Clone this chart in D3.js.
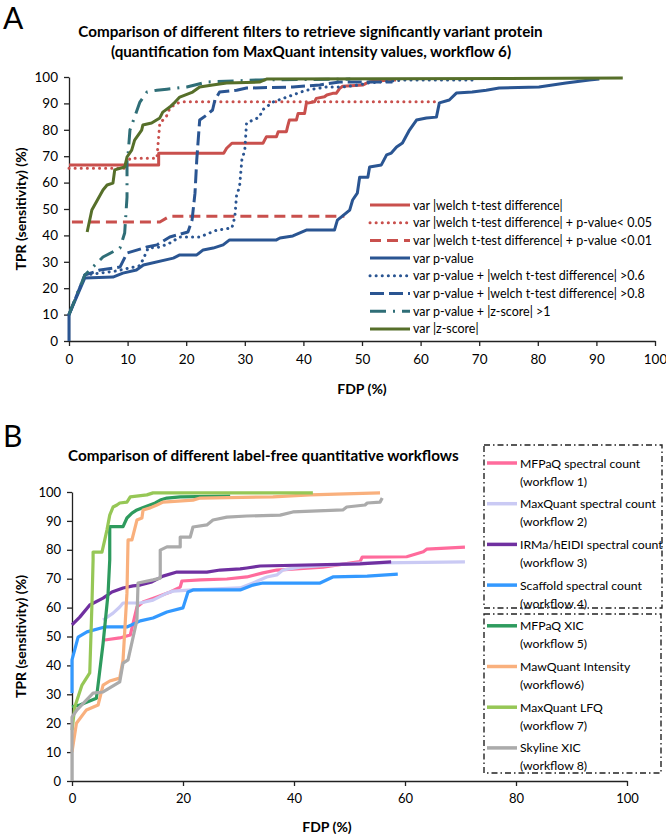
<!DOCTYPE html>
<html><head><meta charset="utf-8">
<script src="https://cdn.jsdelivr.net/npm/d3@7"></script>
<style>
body{margin:0;background:#fff}
svg{display:block}
text{font-family:Lato,"Open Sans",sans-serif;fill:#000}
</style></head>
<body><svg id="c" width="666" height="834"></svg>
<script>
// ---------------- DATA: panel A ----------------
const titleA = ["Comparison of different filters to retrieve significantly variant protein",
                "(quantification fom MaxQuant intensity values, workflow 6)"];
const xTicksA = [0,10,20,30,40,50,60,70,80,90,100];
const yTicksA = [0,10,20,30,40,50,60,70,80,90,100];
const namesA = ["var |welch t-test difference|",
  "var |welch t-test difference| + p-value< 0.05",
  "var |welch t-test difference| + p-value <0.01",
  "var p-value",
  "var p-value + |welch t-test difference| >0.6",
  "var p-value + |welch t-test difference| >0.8",
  "var p-value + |z-score| >1",
  "var |z-score|"];
const aWelch = [[0,66.7],[15.3,66.7],[15.3,71.1],[26.4,71.1],[26.9,73],[27.8,74.9],[33.1,74.9],[33.7,77.4],[35.4,77.4],[35.7,79.3],[37.1,79.3],[37.3,81.2],[37.6,83.7],[38.8,83.7],[39.1,86.2],[40.2,86.2],[40.5,90],[41.9,90.6],[42.2,91.9],[43.6,92.5],[44,93.2],[45,93.8],[45.6,93.8],[46.2,95.7],[46.7,96.5],[50.2,97],[50.7,97.6],[51.3,98.2],[54.7,98.9],[55.8,98.9]];
const aWelchP05 = [[0,65.4],[9.8,65.4],[10.4,69.2],[15,69.2],[15.5,82.5],[16.6,85],[17.2,88.1],[18.3,90],[19.5,90.6],[62.9,90.6]];
const aWelchP01 = [[0.5,45.1],[15.5,45.1],[17.2,47.3],[47,47.3]];
const aPval = [[0,0],[0,10],[2.7,23.9],[7.5,24.2],[9.2,25.7],[11.5,26.9],[12.7,28.8],[17.8,31.4],[18.9,32.6],[21.8,32.6],[22.9,34.5],[24.6,35.2],[26.3,36.4],[27.4,38.3],[35.4,38.3],[36,39],[38.2,39.8],[40.5,42],[45.3,42],[45.8,45.8],[47.9,49.6],[48.4,53.4],[49.2,56],[49.6,62],[51,62],[51.3,65.9],[53.3,66.7],[54.2,70.5],[55,71.2],[55.9,73.5],[56.9,75],[58.1,79.9],[59.3,83.7],[61,84.5],[62.7,84.8],[63.2,90.2],[64.9,91.3],[66.1,93.9],[68.8,94.3],[71.2,95],[73.4,95.8],[80.2,96.2],[84.8,97.7],[88.8,98.9],[90.5,99.2]];
const aPvalW06 = [[0,10],[2.7,25],[8,26.5],[12,28.5],[12.6,30.7],[13.5,35.2],[15.5,35.6],[17.2,37.1],[18.9,39.4],[22.3,39.4],[25.2,42],[27.8,42.8],[28.3,47],[28.6,55.3],[29.1,58.3],[29.5,68.6],[30,72.3],[30.3,82.6],[32.5,84.8],[33,87.5],[34.8,90.5],[38.2,93.2],[40.5,95],[43.9,96.2],[46.7,96.2],[49.6,97],[50.8,97.7],[57.6,98.9],[68.8,98.9]];
const aPvalW08 = [[0,10],[2.7,25],[5.3,26.9],[8.7,28],[9.9,33.3],[13.3,35.6],[15,36.4],[17.2,39.4],[20.3,41.3],[21,45.8],[21.5,56],[21.8,68.6],[22.3,83.7],[23.5,85.6],[24.5,87.5],[24.9,91.3],[25.7,94.3],[28.6,95],[30.3,95.8],[38.2,96.2],[42.8,97],[46.2,98.1],[55.2,98.1]];
const aPvalZ1 = [[0,10],[2.7,25],[5.8,31.8],[8.7,35.2],[9.5,40.9],[9.9,54.5],[9.9,68.6],[10.1,71.2],[10.4,79.9],[12.1,90.5],[13.3,94.3],[15,95],[16.7,95.4],[20.1,96.2],[23.5,98.1],[32.5,98.9],[48,99.2]];
const aZscore = [[3.1,41.3],[3.9,49.6],[5.8,57.2],[6.5,59.1],[7.5,59.8],[7.8,64.8],[9.5,65.9],[9.9,69.7],[10.7,72.3],[11.2,76.1],[12.4,79.9],[12.6,81.8],[14.1,82.6],[15.5,84.5],[16,86.7],[17.2,88.6],[18.1,90.5],[18.9,92.4],[21.1,94.3],[22.3,96.2],[24.5,97],[26.9,97.7],[32.5,98.1],[33.7,99.2],[94.5,99.6]];
const seriesA = [aWelch,aWelchP05,aWelchP01,aPval,aPvalW06,aPvalW08,aPvalZ1,aZscore];

// ---------------- DATA: panel B ----------------
const titleB = "Comparison of different label-free quantitative workflows";
const xTicksB = [0,20,40,60,80,100];
const yTicksB = [0,10,20,30,40,50,60,70,80,90,100];
const namesB = [["MFPaQ spectral count","(workflow 1)"],["MaxQuant spectral count","(workflow 2)"],
  ["IRMa/hEIDI spectral count","(workflow 3)"],["Scaffold spectral count","(workflow 4)"],
  ["MFPaQ XIC","(workflow 5)"],["MawQuant Intensity","(workflow6)"],
  ["MaxQuant LFQ","(workflow 7)"],["Skyline XIC","(workflow 8)"]];
const bMFPaQsc = [[5.9,48.8],[8.6,49.5],[10.5,50.5],[11.7,60.2],[12.8,61.9],[15.3,63.7],[17.7,65.4],[19.5,67.1],[19.8,69.2],[23.1,69.6],[27.9,69.9],[31.5,70.6],[34.4,72],[36.9,73],[45.2,74],[51.9,75.9],[52.3,77.5],[60.3,77.6],[63.3,79.3],[63.9,80.2],[70.8,80.9]];
const bMaxQuantSc = [[5.6,55.7],[7.4,58.1],[8.6,60.2],[9.2,61.6],[12.3,61.6],[14.6,62.6],[17.1,65],[18.2,65.7],[21.8,66.1],[30.3,66.8],[32.6,68.5],[35.1,70.6],[36.9,71.3],[38,73],[41.1,74],[51.9,75.4],[70.8,75.8]];
const bIRMa = [[0,54],[1.4,56.7],[3.2,60.9],[5.6,63.3],[7.2,65.4],[9.2,66.8],[11,67.5],[12.3,67.8],[14.4,68.9],[16.4,70.9],[18.9,72.3],[24.3,72.3],[26.7,73],[30.3,73.4],[31.5,73.7],[33.9,74.4],[51.9,75.1],[57.5,75.8]];
const bScaffold = [[0,30.4],[0,41.9],[1.1,49.8],[2.7,51.6],[5.9,53.3],[9.9,53.3],[12.3,55.4],[14.6,56.4],[17.1,58.5],[20,59.9],[20.9,65.4],[21.8,66.1],[30.3,66.1],[32.6,67.8],[34.4,68.5],[44.7,68.5],[47,70.6],[53.2,70.9],[58.7,71.6]];
const bMFPaQxic = [[0,25.7],[1.4,26.3],[4.4,28.6],[5.6,47.6],[6.5,64.9],[6.8,76.5],[6.8,88],[9.2,88],[9.9,91],[10.8,92.7],[11.7,93.8],[12.6,94.5],[15,96.2],[15.9,97.2],[17.1,97.9],[19.5,98.3],[28.5,98.6]];
const bMawQuant = [[0,10],[0.8,20],[2.6,24.6],[4.7,26.3],[5.6,33.2],[6.8,34.6],[8.6,35.6],[9.2,41.9],[9.9,65],[10.1,83.4],[10.8,83.4],[11.7,90.3],[12.6,91],[12.8,93.8],[14.1,94.5],[15.3,95.5],[16.4,96.5],[21.8,97.2],[23.1,97.9],[36.2,98.3],[42.9,99],[55.5,99.7]];
const bLFQ = [[0,17.6],[0.5,25.6],[1.8,33.2],[3.2,37.4],[3.6,61.6],[3.8,76.5],[3.8,79.2],[5.4,79.2],[5.9,83.4],[6.3,86.9],[6.8,92],[7.4,94.8],[8.1,95.5],[8.6,96.2],[9.9,96.5],[10.5,98.3],[13.5,99],[14.6,99.7],[43.4,99.7]];
const bSkyline = [[0,0],[0,22.1],[0.9,24.6],[3.8,30.4],[5.6,30.8],[8.6,34.3],[9.2,40.8],[10.1,41.9],[11.7,55.7],[11.9,68.5],[14.6,69.6],[15.9,70.2],[15.9,79.9],[17.1,81],[19.5,81],[19.5,84.4],[21.3,84.4],[21.8,87.9],[24.3,88.6],[25.4,90.3],[27.9,91.3],[31.5,91.7],[37.5,92],[39.8,93.1],[48.8,93.8],[49.5,94.8],[52.8,95.5],[53.2,96.2],[55.5,96.5],[55.9,97.9]];
const seriesB = [bMFPaQsc,bMaxQuantSc,bIRMa,bScaffold,bMFPaQxic,bMawQuant,bLFQ,bSkyline];

// ---------------- STYLES ----------------
const stylesA = [
  {c:"#C9504D", d:null},
  {c:"#C9504D", d:"0.1,6"},
  {c:"#C9504D", d:"11,6"},
  {c:"#2A5592", d:null},
  {c:"#2A5592", d:"0.1,6"},
  {c:"#2A5592", d:"14,5"},
  {c:"#2F6E77", d:"16,7,2,7"},
  {c:"#566F2A", d:null}];
const colorsB = ["#FF6B9C","#CACAF4","#7030A0","#3399FF","#2E9B5E","#F9B07D","#96C756","#ABABAB"];

const svg = d3.select("#c");
const font = 'Lato,"Open Sans",sans-serif';
function fit(sel, w){ const l = sel.node().getComputedTextLength(); const fs = parseFloat(sel.attr("font-size")); sel.attr("font-size", fs*w/l); return fs*w/l; }
const isDot = s => s.d && s.d.startsWith("0.1");

// ================= PANEL A =================
const xA = d3.scaleLinear().domain([0,100]).range([69,655]);
const yA = d3.scaleLinear().domain([0,100]).range([341,77]);

svg.append("text").attr("x",3).attr("y",29).attr("font-family","'Liberation Sans',Arial,sans-serif").attr("font-size",30).text("A");
const tA1 = svg.append("text").attr("x",310.5).attr("y",31).attr("text-anchor","middle").attr("dominant-baseline","central")
  .attr("font-weight","bold").attr("font-size",14).text(titleA[0]);
const fsT = fit(tA1,465);
svg.append("text").attr("x",311).attr("y",51).attr("text-anchor","middle").attr("dominant-baseline","central")
  .attr("font-weight","bold").attr("font-size",fsT).text(titleA[1]);

function axes(g, x, y, xt, yt, fs, padX){
  const gx = g.append("g").attr("transform",`translate(0,${y(0)})`)
    .call(d3.axisBottom(x).tickValues(xt).tickSize(5).tickSizeOuter(0).tickPadding(padX));
  const gy = g.append("g").attr("transform",`translate(${x(0)},0)`)
    .call(d3.axisLeft(y).tickValues(yt).tickSize(5).tickSizeOuter(0).tickPadding(6));
  [gx,gy].forEach(a=>{
    a.select(".domain").attr("stroke","#222").attr("stroke-width",1.3);
    a.selectAll(".tick line").attr("stroke","#222").attr("stroke-width",1.3);
    a.selectAll(".tick text").attr("font-family",font).attr("font-size",fs).attr("fill","#000");
  });
}
const gA = svg.append("g");
axes(gA, xA, yA, xTicksA, yTicksA, 13.5, 8);

svg.append("text").attr("transform",`translate(20,${(yA(0)+yA(100))/2}) rotate(-90)`).attr("text-anchor","middle")
  .attr("dominant-baseline","central").attr("font-weight","bold").attr("font-size",14).text("TPR (sensitivity) (%)");
svg.append("text").attr("x",362).attr("y",388).attr("text-anchor","middle").attr("dominant-baseline","central")
  .attr("font-weight","bold").attr("font-size",14).text("FDP (%)");

const lineA = d3.line().x(d=>xA(d[0])).y(d=>yA(d[1]));
seriesA.forEach((s,i)=>{
  gA.append("path").attr("d",lineA(s)).attr("fill","none").attr("stroke",stylesA[i].c)
    .attr("stroke-width",3).attr("stroke-dasharray",stylesA[i].d)
    .attr("stroke-linecap",isDot(stylesA[i])?"round":"butt")
    .attr("stroke-linejoin","round");
});
// legend A
const legA = svg.append("g");
namesA.forEach((n,i)=>{
  const yy = 205 + i*17.7;
  legA.append("line").attr("x1",370).attr("x2",410).attr("y1",yy).attr("y2",yy)
    .attr("stroke",stylesA[i].c).attr("stroke-width",3).attr("stroke-dasharray",stylesA[i].d)
    .attr("stroke-linecap",isDot(stylesA[i])?"round":"butt");
  legA.append("text").attr("class","la").attr("x",413).attr("y",yy).attr("dominant-baseline","central")
    .attr("font-size",13).text(n);
});
const ref = legA.selectAll("text.la").filter((d,i)=>i===4);
const fsLA = fit(ref,232);
legA.selectAll("text.la").attr("font-size",fsLA);

// ================= PANEL B =================
const xB = d3.scaleLinear().domain([0,100]).range([72,627]);
const yB = d3.scaleLinear().domain([0,100]).range([781,492]);

svg.append("text").attr("x",3).attr("y",447).attr("font-family","'Liberation Sans',Arial,sans-serif").attr("font-size",30).text("B");
const tB = svg.append("text").attr("x",68).attr("y",455).attr("dominant-baseline","central")
  .attr("font-weight","bold").attr("font-size",15).text(titleB);
fit(tB,391);

const gB = svg.append("g");
axes(gB, xB, yB, xTicksB, yTicksB, 13, 8);
svg.append("text").attr("transform",`translate(20,${(yB(0)+yB(100))/2}) rotate(-90)`).attr("text-anchor","middle")
  .attr("dominant-baseline","central").attr("font-weight","bold").attr("font-size",14).text("TPR (sensitivity) (%)");
svg.append("text").attr("x",327).attr("y",826).attr("text-anchor","middle").attr("dominant-baseline","central")
  .attr("font-weight","bold").attr("font-size",14).text("FDP (%)");

const lineB = d3.line().x(d=>xB(d[0])).y(d=>yB(d[1]));
seriesB.forEach((s,i)=>{
  gB.append("path").attr("d",lineB(s)).attr("fill","none").attr("stroke",colorsB[i])
    .attr("stroke-width",3.2).attr("stroke-linejoin","round");
});
// legend B
const legB = svg.append("g");
legB.append("rect").attr("x",484).attr("y",445).attr("width",178).attr("height",163)
  .attr("fill","none").attr("stroke","#222").attr("stroke-width",1.4).attr("stroke-dasharray","6,3,1.5,3");
legB.append("rect").attr("x",484).attr("y",614).attr("width",177).attr("height",159)
  .attr("fill","none").attr("stroke","#222").attr("stroke-width",1.4).attr("stroke-dasharray","6,3,1.5,3");
namesB.forEach((n,i)=>{
  const yy = 463 + i*40.7;
  legB.append("line").attr("x1",487).attr("x2",517).attr("y1",yy).attr("y2",yy)
    .attr("stroke",colorsB[i]).attr("stroke-width",3.5);
  legB.append("text").attr("class","lb").attr("x",520).attr("y",yy).attr("dominant-baseline","central")
    .attr("font-size",13).text(n[0]);
  legB.append("text").attr("class","lb").attr("x",520).attr("y",yy+18).attr("dominant-baseline","central")
    .attr("font-size",13).text(n[1]);
});
const refB = legB.selectAll("text.lb").filter((d,i)=>i===2);
const fsLB = fit(refB,136);
legB.selectAll("text.lb").attr("font-size",fsLB);
</script>
</body></html>
